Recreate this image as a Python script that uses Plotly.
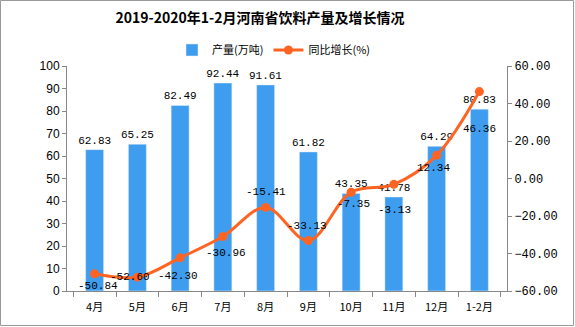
import plotly.graph_objects as go

categories = ["4月", "5月", "6月", "7月", "8月", "9月", "10月", "11月", "12月", "1-2月"]
output_vals = [62.83, 65.25, 82.49, 92.44, 91.61, 61.82, 43.35, 41.78, 64.29, 80.83]
growth_vals = [-50.84, -52.60, -42.30, -30.96, -15.41, -33.13, -7.35, -3.13, 12.34, 46.36]

# label placement offsets (pixels) for growth labels, style only
growth_label_dy = [-12, 0, -18, -16, 15, 15, -12, -26, -13, -37]
growth_label_dx = [3, -7, -2, 3, 0, -1, 2, 1, -3, 0]

W, H = 575, 327
L, R, T, B = 67, 68, 66, 36
pw, ph = W - L - R, H - T - B

num_font = "Liberation Mono, DejaVu Sans Mono, Noto Sans CJK SC"
cjk_font = "Noto Sans CJK SC, Liberation Mono"

fig = go.Figure()
fig.add_trace(go.Bar(
    x=categories, y=output_vals, name="产量(万吨)",
    marker_color="#3E9DEF", width=0.42,
    text=[f"{v:.2f}" for v in output_vals], textposition="outside",
    constraintext="none",
    textfont=dict(family=num_font, size=11, color="#000000"),
    cliponaxis=False,
))
fig.add_trace(go.Scatter(
    x=categories, y=growth_vals, name="同比增长(%)", yaxis="y2",
    mode="lines+markers",
    line=dict(color="#FF6422", width=3, shape="spline", smoothing=1.0),
    marker=dict(color="#FF6422", size=9),
    cliponaxis=False,
))

annotations = []
for c, v, dy, dx in zip(categories, growth_vals, growth_label_dy, growth_label_dx):
    annotations.append(dict(
        x=c, y=v, xref="x", yref="y2", text=f"{v:.2f}", showarrow=False,
        xshift=dx, yshift=dy, xanchor="center", yanchor="middle",
        font=dict(family=num_font, size=11, color="#000000"),
    ))

fig.update_layout(
    width=W, height=H,
    margin=dict(l=L, r=R, t=T, b=B),
    paper_bgcolor="white", plot_bgcolor="white",
    title=dict(text="<b>2019-2020年1-2月河南省饮料产量及增长情况</b>",
               x=260 / W, xanchor="center", y=1 - 18 / H, yanchor="middle",
               font=dict(family=cjk_font, size=14, color="#000000")),
    showlegend=True,
    legend=dict(orientation="h", x=(274 - L) / pw, xanchor="center", y=1 + (T - 50) / ph, yanchor="middle",
                font=dict(family=cjk_font, size=11, color="#000000"),
                bgcolor="rgba(0,0,0,0)", itemwidth=30),
    annotations=annotations,
    xaxis=dict(showline=True, linecolor="#888888", linewidth=1,
               ticks="outside", tickson="boundaries", ticklen=5, tickcolor="#888888",
               showgrid=False, ticklabelstandoff=6,
               tickfont=dict(family=cjk_font, size=11, color="#000000")),
    yaxis=dict(range=[0, 100], dtick=10, showline=True, linecolor="#888888", linewidth=1,
               ticks="outside", ticklen=4, tickcolor="#888888", showgrid=False, zeroline=False,
               tickfont=dict(family="Liberation Sans, Arial", size=12, color="#000000")),
    yaxis2=dict(range=[-60, 60], dtick=20, overlaying="y", side="right", tickformat=".2f",
                showline=True, linecolor="#888888", linewidth=1,
                ticks="outside", ticklen=4, tickcolor="#888888", showgrid=False, zeroline=False,
                tickfont=dict(family=num_font, size=12, color="#000000")),
    shapes=[dict(type="rect", xref="paper", yref="paper",
                 x0=-(L - 0.5) / pw, x1=1 + (R - 1.5) / pw,
                 y0=-(B - 1.5) / ph, y1=1 + (T - 0.5) / ph,
                 line=dict(color="#999999", width=1), layer="below")],
)

fig.write_html("out.html")
